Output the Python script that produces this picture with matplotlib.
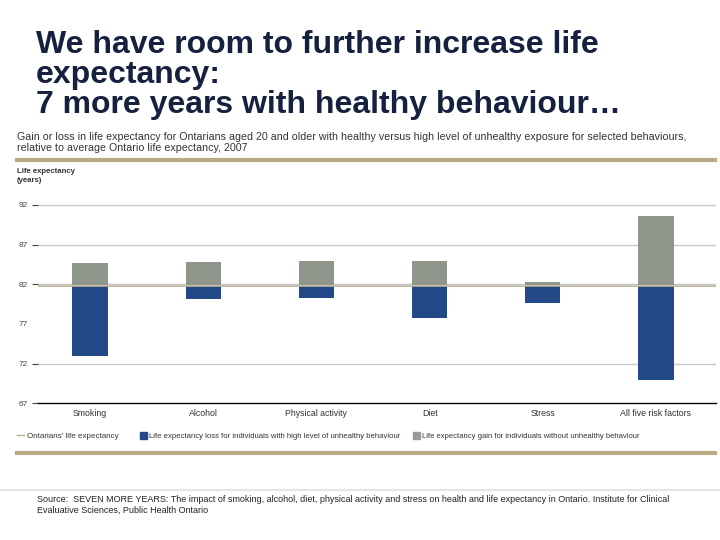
import matplotlib.pyplot as plt
from matplotlib.lines import Line2D
from matplotlib.patches import Rectangle

plt.rcParams['font.family'] = ['Liberation Sans', 'DejaVu Sans']

categories = ["Smoking", "Alcohol", "Physical activity", "Diet", "Stress", "All five risk factors"]
ontario_avg = 81.8
healthy_le = [84.7, 84.8, 84.9, 84.9, 82.3, 90.65]     # top of gray bars
unhealthy_le = [73.0, 80.2, 80.3, 77.8, 79.7, 70.0]    # bottom of blue bars
yticks = [92, 87, 82, 77, 72, 67]

blue = '#224888'
grey = '#8e958b'
gold = '#b8ab84'
navy = '#16213f'

W, H = 720, 540
fig = plt.figure(figsize=(7.2, 5.4), dpi=100)

def fx(px):
    return px / W

def fy(py):
    return 1 - py / H

# title
fig.text(fx(36), fy(30), "We have room to further increase life\nexpectancy:\n7 more years with healthy behaviour…",
         fontsize=23, fontweight='bold', color=navy, va='top', ha='left', linespacing=1.01)

fig.text(fx(17), fy(132), "Gain or loss in life expectancy for Ontarians aged 20 and older with healthy versus high level of unhealthy exposure for selected behaviours,\nrelative to average Ontario life expectancy, 2007",
         fontsize=7.65, color='#333333', va='top', ha='left', linespacing=1.15)

fig.add_artist(Line2D([fx(17), fx(715)], [fy(160), fy(160)], color=gold, lw=3))
fig.add_artist(Line2D([fx(17), fx(715)], [fy(453), fy(453)], color=gold, lw=3))
fig.add_artist(Line2D([0, 1], [fy(490), fy(490)], color='#e6e6e0', lw=1.5))

fig.text(fx(17), fy(168), "Life expectancy\n(years)", fontsize=5.6, fontweight='bold',
         color='#333333', va='top', ha='left', linespacing=1.35)

# axes
ax = fig.add_axes([fx(38), fy(403.3), fx(716 - 38), (403.3 - 201) / H])
x = list(range(len(categories)))
gain = [h - ontario_avg for h in healthy_le]
loss = [u - ontario_avg for u in unhealthy_le]
ax.bar(x, loss, bottom=ontario_avg, width=0.31, color=blue, zorder=3)
ax.bar(x, gain, bottom=ontario_avg, width=0.31, color=grey, zorder=3)

for t in [92, 87, 82, 72]:
    ax.axhline(t, color='#c8c8c8', lw=1, zorder=1)
ax.axhline(ontario_avg, color=gold, lw=1.2, zorder=4)
ax.axhline(ontario_avg + 0.15, color='#d0ccc0', lw=0.6, zorder=4)

ax.set_xlim(-0.459, 5.53)
ax.set_ylim(67, 92.5)
ax.set_yticks(yticks)
ax.set_yticklabels([str(t) for t in yticks], fontsize=6, color='#444444')
ax.tick_params(axis='y', length=4, width=0.8, color='#444444', pad=3)
ax.tick_params(axis='x', length=0, pad=4)
ax.set_xticks(x)
ax.set_xticklabels(categories, fontsize=6.3, color='#333333')
for s in ['top', 'right', 'left']:
    ax.spines[s].set_visible(False)
ax.spines['bottom'].set_color('black')
ax.spines['bottom'].set_linewidth(1)
ax.yaxis.get_major_ticks()[3].tick1line.set_visible(False)

# legend
ly = fy(435)
ty = fy(436.5)
fig.add_artist(Line2D([fx(17), fx(24)], [ly, ly], color=gold, lw=1))
fig.text(fx(27), ty, "Ontarians' life expectancy", fontsize=5.8, color='#333333', va='center')
fig.add_artist(Rectangle((fx(140), fy(438.5)), fx(6.5), 6.5 / H, color=blue))
fig.text(fx(149), ty, "Life expectancy loss for individuals with high level of unhealthy behaviour",
         fontsize=5.55, color='#333333', va='center')
fig.add_artist(Rectangle((fx(413), fy(438.5)), fx(6.5), 6.5 / H, color='#999999'))
fig.text(fx(422), ty, "Life expectancy gain for individuals without unhealthy behaviour",
         fontsize=5.5, color='#333333', va='center')

fig.text(fx(37), fy(495), "Source:  SEVEN MORE YEARS: The impact of smoking, alcohol, diet, physical activity and stress on health and life expectancy in Ontario. Institute for Clinical\nEvaluative Sciences, Public Health Ontario",
         fontsize=6.5, color='#222222', va='top', ha='left', linespacing=1.25)

fig.savefig("out.png", dpi=100)
